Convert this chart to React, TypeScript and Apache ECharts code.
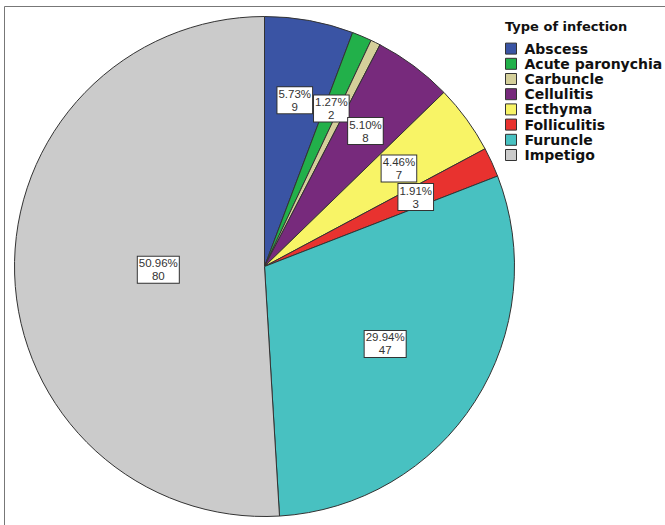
import React, { useEffect, useRef } from "react";
import * as echarts from "echarts";

const categories = ["Abscess", "Acute paronychia", "Carbuncle", "Cellulitis", "Ecthyma", "Folliculitis", "Furuncle", "Impetigo"];
const counts = [9, 2, 1, 8, 7, 3, 47, 80];
const percents = ["5.73%", "1.27%", "0.64%", "5.10%", "4.46%", "1.91%", "29.94%", "50.96%"];
const showLabel = [true, true, false, true, true, true, true, true];
const colors = ["#3a54a4", "#22b04a", "#d4cf9a", "#772a7c", "#f8f466", "#e8322f", "#48c1c1", "#cbcbcb"];
// radial placement of each label as a fraction of the radius
const labelRadius = [0.66, 0.67, 0.66, 0.66, 0.65, 0.65, 0.56, 0.415];

const CX = 264.5;
const CY = 266.5;
const R = 250;
const FONT = "'Liberation Sans', Arial, sans-serif";
const LEGEND_FONT = "'DejaVu Sans', sans-serif";

export default function App() {
  const ref = useRef<HTMLDivElement>(null);
  useEffect(() => {
    document.body.style.margin = "0";
    const chart = echarts.init(ref.current!, null, { renderer: "svg" });
    const data = categories.map((name, i) => ({
      name,
      value: counts[i],
      itemStyle: { color: colors[i] },
      label: { show: showLabel[i] },
    }));
    chart.setOption({
      animation: false,
      backgroundColor: "#ffffff",
      title: {
        text: "Type of infection",
        left: 500,
        top: 15,
        textStyle: { fontFamily: LEGEND_FONT, fontSize: 13, fontWeight: "bold", color: "#111" },
      },
      legend: {
        orient: "vertical",
        left: 500,
        top: 36,
        itemWidth: 11,
        itemHeight: 11,
        itemGap: 0,
        icon: "rect",
        selectedMode: false,
        itemStyle: { borderColor: "#333", borderWidth: 1 },
        textStyle: { fontFamily: LEGEND_FONT, fontSize: 14, fontWeight: "bold", color: "#111", lineHeight: 15.2, padding: [0, 0, 0, 3] },
        data: categories,
      },
      graphic: [
        { type: "line", shape: { x1: 4.5, y1: 6.5, x2: 665, y2: 6.5 }, style: { stroke: "#777", lineWidth: 1 } },
        { type: "line", shape: { x1: 4.5, y1: 6.5, x2: 4.5, y2: 525 }, style: { stroke: "#777", lineWidth: 1 } },
      ],
      series: [
        {
          type: "pie",
          center: [CX, CY],
          radius: [0, R],
          startAngle: 90,
          clockwise: true,
          avoidLabelOverlap: false,
          itemStyle: { borderColor: "#333", borderWidth: 1 },
          label: {
            show: true,
            position: "inside",
            formatter: (p: any) => percents[p.dataIndex] + "\n" + counts[p.dataIndex],
            fontFamily: FONT,
            fontSize: 11.5,
            lineHeight: 13,
            color: "#333",
            backgroundColor: "#ffffff",
            borderColor: "#333",
            borderWidth: 1,
            padding: [0, 1, 0, 1],
            align: "center",
          },
          labelLine: { show: false },
          labelLayout: (p: any) => {
            const r = p.labelRect;
            const lx = r.x + r.width / 2;
            const ly = r.y + r.height / 2;
            const k = labelRadius[p.dataIndex] / 0.5;
            return { x: CX + (lx - CX) * k, y: CY + (ly - CY) * k, align: "center", verticalAlign: "middle" };
          },
          data,
        },
      ],
    });
    return () => chart.dispose();
  }, []);
  return <div ref={ref} style={{ width: 665, height: 525, position: "absolute", left: 0, top: 0 }} />;
}
